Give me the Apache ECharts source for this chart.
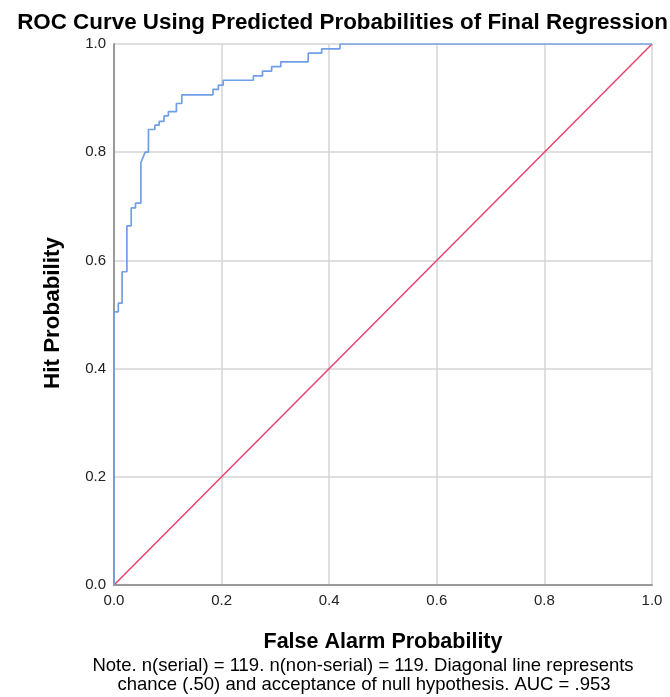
<!DOCTYPE html>
<html>
<head>
<meta charset="utf-8">
<script src="https://cdn.jsdelivr.net/npm/echarts@6/dist/echarts.min.js"></script>
<style>
html,body{margin:0;padding:0;background:#fff;}
#chart{width:670px;height:697px;}
</style>
</head>
<body>
<div id="chart"></div>
<script>
// ROC curve vertices (false alarm probability, hit probability)
var falseAlarm = [0,0,0.008,0.008,0.015,0.015,0.024,0.024,0.032,0.032,0.040,0.040,0.050,0.050,0.058,0.064,0.064,0.076,0.076,0.084,0.084,0.093,0.093,0.101,0.101,0.116,0.116,0.126,0.126,0.184,0.184,0.194,0.194,0.203,0.203,0.259,0.259,0.276,0.276,0.293,0.293,0.310,0.310,0.361,0.361,0.386,0.386,0.420,0.420,1.0];
var hitRate    = [0,0.505,0.505,0.521,0.521,0.579,0.579,0.664,0.664,0.697,0.697,0.706,0.706,0.781,0.800,0.800,0.842,0.842,0.850,0.850,0.857,0.857,0.867,0.867,0.875,0.875,0.890,0.890,0.906,0.906,0.916,0.916,0.924,0.924,0.933,0.933,0.941,0.941,0.950,0.950,0.958,0.958,0.967,0.967,0.983,0.983,0.991,0.991,1.0,1.0];
// reference (chance) line
var chanceX = [0, 1];
var chanceY = [0, 1];

var titleText = 'ROC Curve Using Predicted Probabilities of Final Regression';
var xTitle = 'False Alarm Probability';
var yTitle = 'Hit Probability';
var noteLines = ['Note. n(serial) = 119. n(non-serial) = 119. Diagonal line represents', 'chance (.50) and acceptance of null hypothesis. AUC = .953'];

var FONT = '"Liberation Sans", Arial, sans-serif';
var chart = echarts.init(document.getElementById('chart'), null, {renderer: 'canvas'});

function zip(a, b) { return a.map(function (v, i) { return [v, b[i]]; }); }

function axisCommon() {
  return {
    type: 'value', min: 0, max: 1, interval: 0.2,
    axisLine: {show: true, onZero: false, lineStyle: {color: '#9a9a9a', width: 2}},
    axisTick: {show: false},
    splitLine: {show: true, lineStyle: {color: '#d4d4d4', width: 1.5}},
    axisLabel: {
      fontFamily: FONT, fontSize: 15, color: '#222', margin: 8,
      formatter: function (v) { return v.toFixed(1); }
    }
  };
}

var xAxis = axisCommon();
var yAxis = axisCommon();
yAxis.axisLabel.verticalAlign = 'middle';

function txt(s, x, y, font, rot) {
  return {type: 'text', x: x, y: y, rotation: rot || 0,
    style: {text: s, font: font, fill: '#000', align: 'center', verticalAlign: 'middle'}};
}

chart.setOption({
  animation: false,
  backgroundColor: '#fff',
  graphic: [
    txt(titleText, 342.5, 23, 'bold 22.4px ' + FONT),
    txt(xTitle, 383, 642.5, 'bold 21.5px ' + FONT),
    txt(yTitle, 53, 313, 'bold 22.4px ' + FONT, Math.PI / 2),
    txt(noteLines[0], 363, 666, '18.5px ' + FONT),
    txt(noteLines[1], 364, 685, '18.5px ' + FONT)
  ],
  grid: {left: 114, right: 18, top: 44, bottom: 112, containLabel: false},
  xAxis: xAxis,
  yAxis: yAxis,
  series: [
    {type: 'line', data: zip(chanceX, chanceY), symbol: 'none',
     lineStyle: {color: '#e8426f', width: 1.5}, z: 3},
    {type: 'line', data: zip(falseAlarm, hitRate), symbol: 'none',
     lineStyle: {color: '#6f9fe8', width: 1.7}, z: 4}
  ]
});
</script>
</body>
</html>
